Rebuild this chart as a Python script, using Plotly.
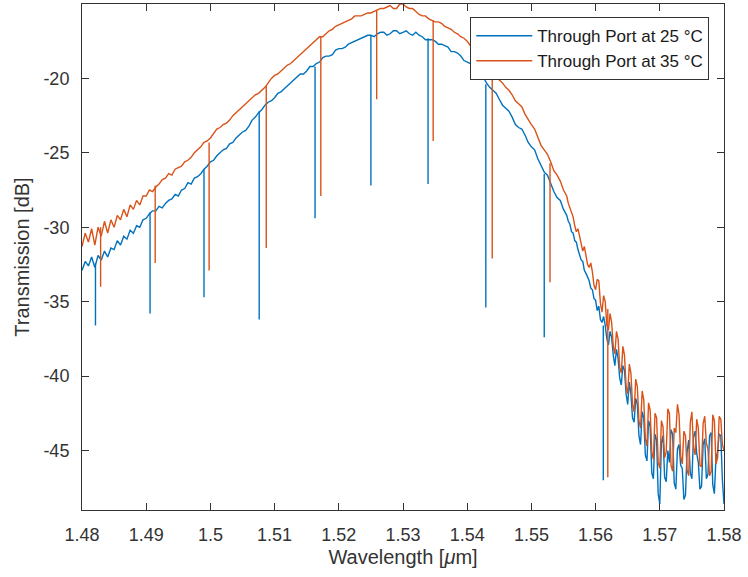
import numpy as np
import plotly.graph_objects as go

# ---------------- data ----------------
# wavelength grid [um]
wl_main = np.round(np.arange(1.480, 1.55501, 0.0005), 4)     # 1.4800 ... 1.5550
wl_tail = np.round(np.arange(1.5555, 1.580001, 0.00025), 5)  # 1.55550 ... 1.58000

# Through port at 25 degC  [dB]
t25_main = [-32.9, -32.3, -32.6, -32.0, -32.7, -31.9, -32.2, -31.6, -32.0, -31.4,
            -31.5, -30.9, -31.2, -30.6, -30.8, -30.2, -30.4, -29.9, -30.0, -29.5,
            -29.4, -29.1, -28.9, -28.9, -28.6, -28.7, -28.4, -28.2, -28.1, -27.8,
            -27.9, -27.5, -27.4, -27.0, -27.1, -26.7, -26.6, -26.4, -26.1, -25.9,
            -25.6, -25.5, -25.2, -25.0, -24.8, -24.7, -24.4, -24.3, -24.0, -23.8,
            -23.6, -23.5, -23.2, -22.8, -22.6, -22.3, -22.1, -21.8, -21.6, -21.5,
            -21.3, -21.0, -20.9, -20.7, -20.5, -20.3, -20.1, -19.9, -19.7, -19.7,
            -19.5, -19.2, -19.2, -19.0, -18.9, -18.6, -18.5, -18.5, -18.4, -18.1,
            -18.0, -18.0, -17.9, -17.7, -17.6, -17.5, -17.4, -17.3, -17.2, -17.1,
            -17.1, -17.2, -17.0, -16.9, -16.9, -17.1, -17.0, -16.8, -16.8, -17.0,
            -16.9, -16.8, -17.0, -17.1, -16.9, -17.1, -17.2, -17.4, -17.4, -17.4,
            -17.5, -17.7, -17.7, -17.8, -17.9, -18.2, -18.2, -18.3, -18.5, -18.8,
            -18.9, -19.0, -19.3, -19.6, -19.8, -19.9, -20.3, -20.6, -20.8, -21.0,
            -21.4, -21.8, -22.0, -22.2, -22.6, -23.1, -23.3, -23.4, -23.8, -24.3,
            -24.6, -24.8, -25.4, -25.9, -26.3, -26.5, -27.1, -27.6, -28.0, -28.2,
            -28.8]
t25_tail = [-29.2, -29.6, -29.8, -30.3, -30.4, -30.9, -31.0, -31.5, -31.8, -32.2,
            -32.3, -32.9, -33.1, -33.4, -33.6, -34.1, -34.2, -34.8, -34.9, -35.6,
            -35.3, -36.2, -36.4, -36.0, -36.6, -37.5, -37.9, -37.0, -37.4, -38.6,
            -39.3, -38.2, -38.8, -40.1, -40.6, -39.3, -39.6, -41.2, -41.9, -40.4,
            -41.2, -42.8, -43.1, -41.5, -41.9, -44.0, -44.6, -42.4, -42.8, -45.3,
            -45.7, -43.0, -43.4, -46.5, -46.9, -43.9, -44.3, -47.9, -48.6, -44.5,
            -44.0, -46.8, -47.1, -45.0, -45.8, -43.6, -43.9, -47.2, -47.6, -44.9,
            -44.6, -46.0, -46.2, -48.3, -48.0, -45.1, -44.3, -46.5, -46.9, -44.1,
            -43.7, -45.2, -45.8, -47.6, -47.4, -44.6, -44.2, -46.9, -46.6, -44.0,
            -43.8, -47.3, -47.9, -45.5, -45.1, -43.9, -44.0, -47.0, -48.6]

# Through port at 35 degC  [dB]
t35_main = [-31.3, -30.4, -31.0, -30.1, -31.2, -30.0, -30.6, -29.6, -30.4, -29.5,
            -30.0, -29.2, -29.5, -28.8, -29.3, -28.5, -28.8, -28.2, -28.5, -27.9,
            -27.9, -27.5, -27.6, -27.3, -27.1, -26.8, -26.7, -26.4, -26.5, -26.1,
            -26.0, -25.9, -25.6, -25.5, -25.3, -25.0, -24.8, -24.6, -24.3, -24.2,
            -24.0, -23.7, -23.4, -23.3, -23.1, -23.0, -22.8, -22.5, -22.3, -22.1,
            -21.9, -21.7, -21.5, -21.3, -21.1, -21.0, -20.8, -20.6, -20.3, -20.0,
            -19.8, -19.7, -19.5, -19.3, -19.1, -19.0, -18.8, -18.6, -18.4, -18.2,
            -18.0, -17.8, -17.6, -17.4, -17.2, -17.2, -17.0, -16.8, -16.7, -16.5,
            -16.4, -16.3, -16.2, -16.1, -16.0, -15.8, -15.8, -15.8, -15.7, -15.6,
            -15.6, -15.5, -15.4, -15.3, -15.3, -15.2, -15.1, -15.3, -15.3, -15.0,
            -15.0, -15.2, -15.3, -15.3, -15.5, -15.7, -15.8, -15.8, -16.0, -16.1,
            -16.2, -16.2, -16.3, -16.5, -16.6, -16.7, -16.9, -17.0, -17.2, -17.3,
            -17.5, -17.8, -18.0, -18.2, -18.6, -18.9, -19.2, -19.3, -19.6, -19.9,
            -20.1, -20.3, -20.6, -20.8, -21.1, -21.5, -21.7, -21.9, -22.4, -22.8,
            -23.1, -23.4, -23.9, -24.5, -24.8, -25.1, -25.6, -26.2, -26.5, -26.9,
            -27.5]
t35_tail = [-27.9, -28.4, -28.7, -29.1, -29.3, -29.9, -30.3, -30.1, -30.6, -31.2,
            -31.6, -31.3, -31.8, -32.5, -32.7, -32.4, -33.0, -33.9, -34.2, -33.5,
            -33.6, -35.1, -35.7, -34.6, -35.0, -36.6, -36.9, -35.8, -36.4, -38.0,
            -38.5, -37.0, -37.5, -39.4, -39.8, -38.0, -38.6, -40.7, -41.2, -39.2,
            -39.8, -41.9, -42.4, -40.2, -40.7, -43.0, -43.5, -41.0, -41.6, -44.2,
            -44.7, -41.8, -42.3, -45.1, -45.6, -42.5, -42.8, -45.8, -46.2, -43.0,
            -43.4, -45.5, -45.1, -42.2, -42.5, -46.0, -46.4, -43.5, -43.8, -41.9,
            -42.6, -45.4, -45.9, -43.7, -44.0, -46.3, -46.7, -43.1, -42.4, -44.8,
            -45.3, -42.9, -43.5, -46.0, -46.1, -43.2, -42.7, -44.5, -44.9, -46.7,
            -46.4, -42.6, -43.0, -45.9, -45.5, -42.7, -42.9, -44.6, -45.0]

# ring resonance dips: wavelength, level just outside the dip, dip bottom
dip25_wl = [1.4821, 1.4906, 1.4990, 1.5076, 1.5163, 1.5250, 1.5339, 1.5429, 1.5520, 1.5612]
dip25_top = [-32.4, -29.0, -26.1, -22.2, -19.2, -17.1, -17.3, -20.4, -26.4, -36.6]
dip25_bot = [-36.6, -35.8, -34.7, -36.2, -29.4, -27.2, -27.1, -35.4, -37.4, -47.0]

dip35_wl = [1.4829, 1.4914, 1.4998, 1.5087, 1.5172, 1.5259, 1.5347, 1.5439, 1.5529, 1.5619]
dip35_top = [-30.0, -27.2, -24.3, -20.5, -17.2, -15.4, -16.1, -19.7, -25.7, -35.5]
dip35_bot = [-34.0, -32.4, -32.9, -31.4, -27.9, -21.4, -24.2, -32.1, -33.7, -46.8]

x_ticks = [1.48, 1.49, 1.50, 1.51, 1.52, 1.53, 1.54, 1.55, 1.56, 1.57, 1.58]
x_ticktext = ["1.48", "1.49", "1.5", "1.51", "1.52", "1.53", "1.54", "1.55", "1.56", "1.57", "1.58"]
y_ticks = [-45, -40, -35, -30, -25, -20]
y_ticktext = ["-45", "-40", "-35", "-30", "-25", "-20"]

names = ["Through Port at 25 °C", "Through Port at 35 °C"]
colors = ["#0072BD", "#D95319"]

assert len(wl_main) == len(t25_main) == len(t35_main)
assert len(wl_tail) == len(t25_tail) == len(t35_tail)

# ---------------- figure ----------------
wl = list(wl_main) + list(wl_tail)
series = [t25_main + t25_tail, t35_main + t35_tail]
dips = [(dip25_wl, dip25_top, dip25_bot), (dip35_wl, dip35_top, dip35_bot)]

fig = go.Figure()
for name, col, ys, (dw, dt, db) in zip(names, colors, series, dips):
    fig.add_trace(go.Scatter(x=wl, y=ys, mode="lines", name=name,
                             line=dict(color=col, width=1.4)))
    dx, dy = [], []
    for w, t, b in zip(dw, dt, db):
        dx += [w, w, None]
        dy += [t, b, None]
    fig.add_trace(go.Scatter(x=dx, y=dy, mode="lines", showlegend=False,
                             line=dict(color=col, width=1.4), hoverinfo="skip"))

axis_col = "#333333"
font_family = "Liberation Sans, Arial, sans-serif"

fig.update_layout(
    width=748, height=577,
    margin=dict(l=82, r=24, t=4, b=67),
    paper_bgcolor="white", plot_bgcolor="white",
    font=dict(family=font_family, color=axis_col, size=18),
    showlegend=True,
    legend=dict(x=0.977, y=0.974, xanchor="right", yanchor="top",
                bgcolor="white", bordercolor="#333333", borderwidth=1,
                font=dict(size=17, color="#1a1a1a"),
                tracegroupgap=0, itemwidth=56),
)
fig.update_xaxes(
    range=[1.48, 1.58], tickvals=x_ticks, ticktext=x_ticktext, automargin=False,
    showline=True, linecolor=axis_col, linewidth=1, mirror="ticks",
    ticks="inside", ticklen=7, tickcolor=axis_col, showgrid=False, zeroline=False,
    tickfont=dict(size=18), ticklabelstandoff=8,
    title=dict(text="Wavelength [<i>μ</i>m]", font=dict(size=20), standoff=6),
)
fig.update_yaxes(
    range=[-49, -15], tickvals=y_ticks, ticktext=y_ticktext, automargin=False,
    showline=True, linecolor=axis_col, linewidth=1, mirror="ticks",
    ticks="inside", ticklen=7, tickcolor=axis_col, showgrid=False, zeroline=False,
    tickfont=dict(size=18), ticklabelstandoff=8,
    title=dict(text="Transmission [dB]", font=dict(size=20), standoff=8),
)

fig.write_html("out.html", config={"displayModeBar": False},
               post_script="document.body.style.margin='0';document.body.style.padding='0';")
